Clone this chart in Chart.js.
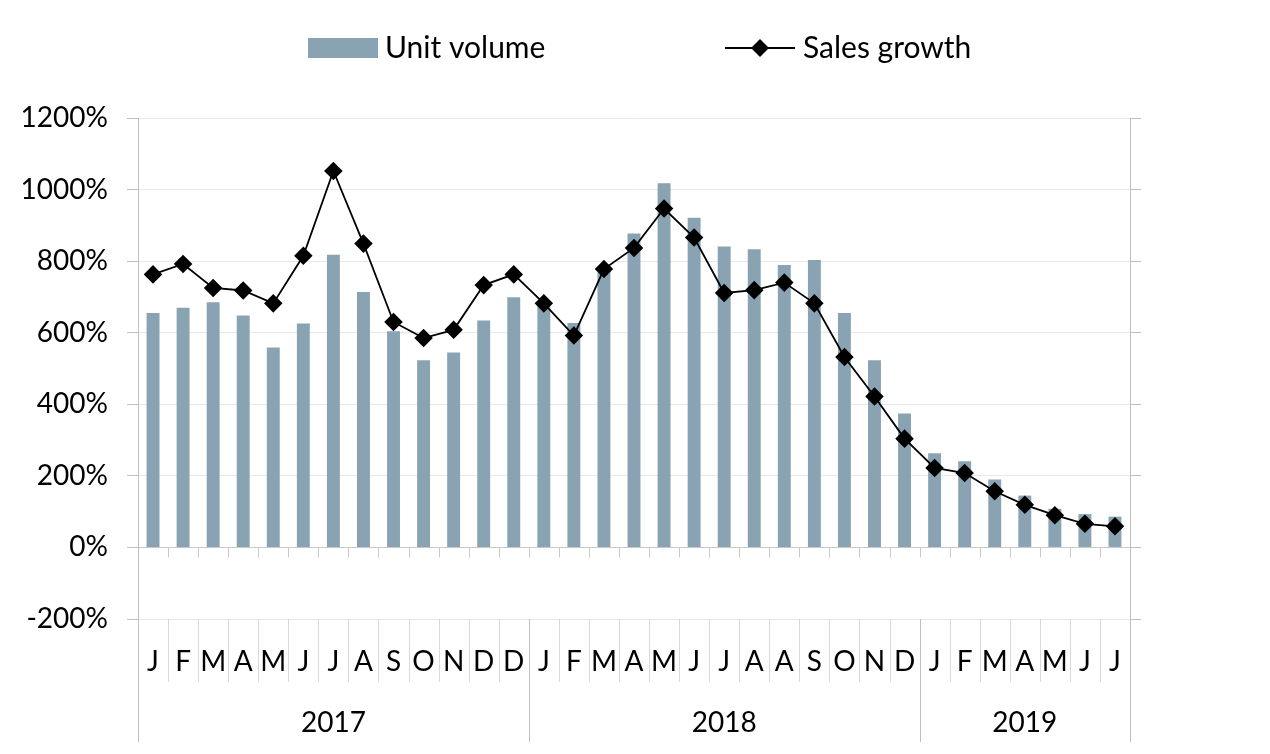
<!DOCTYPE html>
<html>
<head>
<meta charset="utf-8">
<script src="https://cdn.jsdelivr.net/npm/chart.js@4.4.1/dist/chart.umd.min.js"></script>
<style>
  html, body { margin: 0; padding: 0; background: #fff; }
  #wrap { width: 1270px; height: 754px; }
</style>
</head>
<body>
<div id="wrap"><canvas id="chart" width="1270" height="754"></canvas></div>
<script>
// Month letters along the axis, 2017-01 .. 2019-07 (as labelled in the source)
const months = [
  "J", "F", "M", "A", "M", "J", "J", "A", "S", "O", "N", "D", "D",
  "J", "F", "M", "A", "M", "J", "J", "A", "A", "S", "O", "N", "D",
  "J", "F", "M", "A", "M", "J", "J",
];

// Year groups under the months
const years = ["2017", "2018", "2019"];
const yearLengths = [13, 13, 7];

// Unit volume (bars), in %
const unitVolume = [
  655, 670, 685, 648, 559, 626, 818, 714, 604, 523, 545, 634, 699,
  675, 627, 770, 877, 1018, 921, 841, 833, 789, 803, 655, 523, 374,
  263, 241, 190, 145, 108, 93, 86,
];

// Sales growth (line), in %
const salesGrowth = [
  763, 792, 725, 718, 682, 815, 1052, 849, 630, 585, 608, 733, 763,
  682, 592, 778, 837, 947, 866, 711, 719, 740, 682, 532, 422, 304,
  222, 208, 157, 119, 90, 66, 59,
];

const FONT = "Lato, 'Open Sans', sans-serif";
const barColor = "#8aa3b3";
const axisGray = "#bfbfbf";

// Separators, small ticks, year labels under the plot
const frame = {
  id: "frame",
  afterDraw(chart) {
    const ctx = chart.ctx;
    const x = chart.scales.x;
    const y = chart.scales.y;
    const area = chart.chartArea;
    const half = (x.right - x.left) / months.length / 2;
    const zeroY = Math.round(y.getPixelForValue(0)) + 0.5;

    ctx.save();
    ctx.lineWidth = 1;

    // little tick marks hanging off the 0% line
    ctx.strokeStyle = "#c9c9c9";
    ctx.beginPath();
    for (let i = 1; i < months.length; i++) {
      const px = Math.round(x.getPixelForValue(i) - half) + 0.5;
      ctx.moveTo(px, zeroY);
      ctx.lineTo(px, zeroY + 10);
    }
    ctx.stroke();

    // separators between month letters
    ctx.strokeStyle = "#d9d9d9";
    ctx.beginPath();
    for (let i = 1; i < months.length; i++) {
      const px = Math.round(x.getPixelForValue(i) - half) + 0.5;
      ctx.moveTo(px, area.bottom);
      ctx.lineTo(px, area.bottom + 63);
    }
    ctx.stroke();

    // year boundaries and labels
    ctx.strokeStyle = axisGray;
    ctx.fillStyle = "#000";
    ctx.font = "28px " + FONT;
    ctx.textAlign = "center";
    ctx.textBaseline = "middle";
    let start = 0;
    ctx.beginPath();
    for (let k = 0; k < years.length; k++) {
      const end = start + yearLengths[k] - 1;
      const left = x.getPixelForValue(start) - half;
      const right = x.getPixelForValue(end) + half;
      const lx = Math.round(left) + 0.5;
      ctx.moveTo(lx, area.bottom);
      ctx.lineTo(lx, area.bottom + 123);
      if (k === years.length - 1) {
        const rx = Math.round(right) + 0.5;
        ctx.moveTo(rx, area.bottom);
        ctx.lineTo(rx, area.bottom + 123);
      }
      ctx.fillText(years[k], (left + right) / 2, area.bottom + 104);
      start = end + 1;
    }
    ctx.stroke();
    ctx.restore();
  },
};

// Legend drawn by hand: bar swatch, and line with a diamond
const topLegend = {
  id: "topLegend",
  afterDraw(chart) {
    const ctx = chart.ctx;
    const ds = chart.data.datasets;
    const cy = 48;
    ctx.save();
    ctx.font = "30px " + FONT;
    ctx.textBaseline = "middle";
    ctx.textAlign = "left";

    ctx.fillStyle = ds[0].backgroundColor;
    ctx.fillRect(308, cy - 10, 70, 20);
    ctx.fillStyle = "#000";
    ctx.fillText(ds[0].label, 385, cy);

    ctx.strokeStyle = ds[1].borderColor;
    ctx.lineWidth = 1.8;
    ctx.beginPath();
    ctx.moveTo(725, cy);
    ctx.lineTo(795, cy);
    ctx.stroke();
    ctx.fillStyle = ds[1].pointBackgroundColor;
    ctx.beginPath();
    ctx.moveTo(760, cy - 9);
    ctx.lineTo(769, cy);
    ctx.lineTo(760, cy + 9);
    ctx.lineTo(751, cy);
    ctx.closePath();
    ctx.fill();
    ctx.fillStyle = "#000";
    ctx.fillText(ds[1].label, 803, cy);
    ctx.restore();
  },
};

new Chart(document.getElementById("chart"), {
  type: "bar",
  plugins: [frame, topLegend],
  data: {
    labels: months,
    datasets: [
      {
        type: "bar",
        label: "Unit volume",
        data: unitVolume,
        backgroundColor: barColor,
        barPercentage: 0.43,
        categoryPercentage: 1,
        order: 1,
      },
      {
        type: "line",
        label: "Sales growth",
        data: salesGrowth,
        borderColor: "#000",
        borderWidth: 1.8,
        pointStyle: "rectRot",
        pointRadius: 8,
        pointBackgroundColor: "#000",
        pointBorderColor: "#000",
        tension: 0,
        order: 0,
      },
    ],
  },
  options: {
    responsive: false,
    animation: false,
    devicePixelRatio: 1,
    layout: { padding: { top: 118, left: 0, right: 129, bottom: 0 } },
    plugins: {
      legend: { display: false },
      tooltip: { enabled: false },
    },
    scales: {
      x: {
        grid: { display: false, drawTicks: false },
        border: { display: false },
        ticks: {
          color: "#000",
          font: { family: FONT, size: 28 },
          padding: 26,
          maxRotation: 0,
          autoSkip: false,
        },
        afterFit: (scale) => { scale.height = 135; },
      },
      y: {
        min: -200,
        max: 1200,
        grid: {
          color: (c) => (c.tick && c.tick.value === 0 ? "#c8c8c8" : "#e8e8e8"),
          tickColor: axisGray,
          tickLength: 11,
        },
        border: { color: axisGray },
        ticks: {
          stepSize: 200,
          color: "#000",
          font: { family: FONT, size: 28 },
          padding: 19,
          callback: (v) => v + "%",
        },
        afterFit: (scale) => { scale.width = 138; },
      },
      y2: {
        position: "right",
        min: -200,
        max: 1200,
        grid: {
          drawOnChartArea: false,
          color: axisGray,
          tickLength: 11,
        },
        border: { color: axisGray },
        ticks: { stepSize: 200, display: false },
      },
    },
  },
});
</script>
</body>
</html>
